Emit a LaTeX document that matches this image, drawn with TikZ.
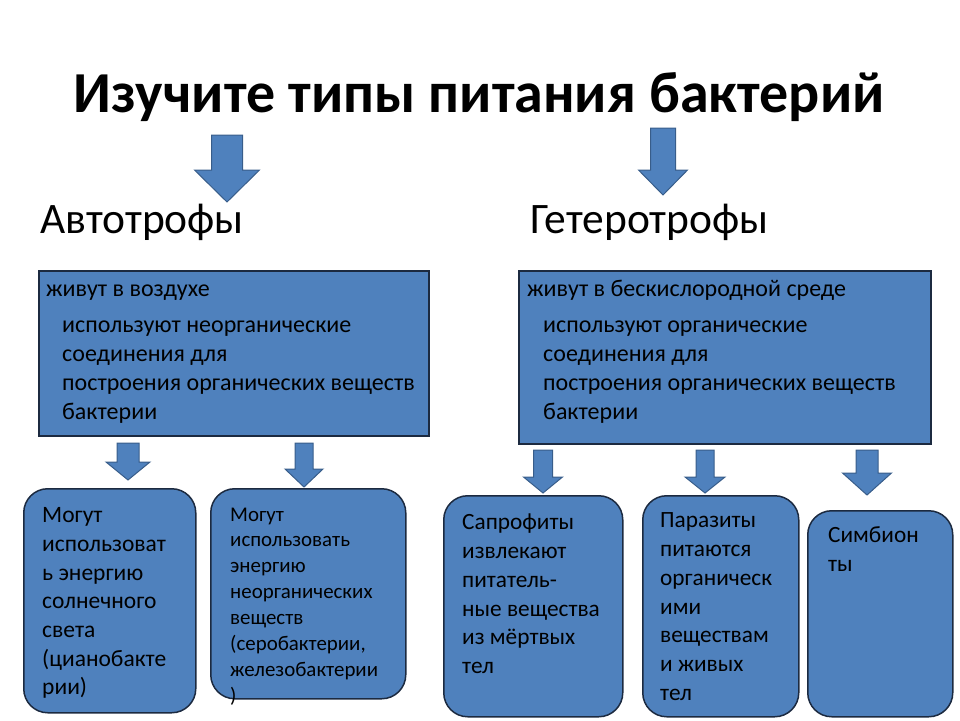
\documentclass[tikz,border=0pt]{standalone}
\usepackage{fontspec}
\setmainfont{Carlito}
\usetikzlibrary{positioning}
\definecolor{boxblue}{HTML}{4F81BD}
\definecolor{boxline}{HTML}{1C2A40}
\definecolor{arrowline}{HTML}{385D8A}
\tikzset{
  topbox/.style={draw=boxline, fill=boxblue, line width=1.5pt, anchor=north west, inner sep=0pt},
  roundbox/.style={topbox, rounded corners=24pt},
  boxtext/.style={anchor=north west, inner sep=0pt, align=left},
  blockarrow/.style={draw=arrowline, fill=boxblue, line width=1pt},
}
% block arrow: tip x, top y, neck y, tip y, shaft half width, head half width
\newcommand{\downblock}[6]{%
  \draw[blockarrow] (#1-#5,#2) -- (#1+#5,#2) -- (#1+#5,#3) -- (#1+#6,#3)
    -- (#1,#4) -- (#1-#6,#3) -- (#1-#5,#3) -- cycle;}

\begin{document}
\begin{tikzpicture}[x=1pt, y=-1pt]
\useasboundingbox (0,0) rectangle (960,720);
\node[anchor=base, font=\fontsize{58}{70}\selectfont\bfseries] (title) at (479,112) {Изучите типы питания бактерий};
\node[anchor=base west, inner sep=0pt, font=\fontsize{43.5}{50}\selectfont] (auto) at (40,233) {Автотрофы};
\node[anchor=base west, inner sep=0pt, font=\fontsize{43.5}{50}\selectfont] (hetero) at (530,233) {Гетеротрофы};

% arrows under the title
\downblock{227}{135}{170}{202}{15.5}{32.5}
\downblock{663}{128}{170}{195}{12.5}{24.5}

% upper boxes
\node[topbox, minimum width=390pt, minimum height=165pt] (autobox) at (38,270) {};
\node[topbox, minimum width=412pt, minimum height=173pt] (heterobox) at (518,270) {};
\node[boxtext, font=\fontsize{24}{29}\selectfont] (autoair) at ([xshift=8pt, yshift=-6.3pt]autobox.north west) {\strut живут в воздухе};
\node[boxtext, font=\fontsize{24}{29}\selectfont] (autouse) at ([xshift=24pt, yshift=-42.3pt]autobox.north west)
  {\strut используют неорганические\\соединения для\\построения органических веществ\\бактерии};
\node[boxtext, font=\fontsize{24}{29}\selectfont] (heteroair) at ([xshift=9pt, yshift=-6.3pt]heterobox.north west) {\strut живут в бескислородной среде};
\node[boxtext, font=\fontsize{24}{29}\selectfont] (heterouse) at ([xshift=25pt, yshift=-42.3pt]heterobox.north west)
  {\strut используют органические\\соединения для\\построения органических веществ\\бактерии};

% small arrows
\downblock{128}{443}{462}{480}{11}{22}
\downblock{304}{443}{469}{487}{9}{19}
\downblock{543}{450}{477}{493}{9.5}{19.5}
\downblock{705}{450}{477}{493}{9}{20}
\downblock{867}{450}{473}{495}{11}{24.5}

% lower boxes
\node[roundbox, minimum width=172pt, minimum height=224pt] (sunbox) at (23,488) {};
\node[roundbox, minimum width=195pt, minimum height=210pt] (chembox) at (210,488) {};
\node[roundbox, minimum width=179pt, minimum height=221pt] (saprobox) at (443,495) {};
\node[roundbox, minimum width=156pt, minimum height=221pt] (parabox) at (642,495) {};
\node[roundbox, minimum width=145pt, minimum height=206pt] (symbbox) at (807,510) {};

\node[boxtext, font=\fontsize{23.5}{28.7}\selectfont] (suntext) at ([xshift=19pt, yshift=-14.4pt]sunbox.north west)
  {\strut Могут\\использоват\\ь энергию\\солнечного\\света\\(цианобакте\\рии)};
\node[boxtext, font=\fontsize{20.9}{25.9}\selectfont] (chemtext) at ([xshift=20pt, yshift=-14.7pt]chembox.north west)
  {\strut Могут\\использовать\\энергию\\неорганических\\веществ\\(серобактерии,\\железобактерии\\)};
\node[boxtext, font=\fontsize{23.3}{28.8}\selectfont] (saprotext) at ([xshift=19pt, yshift=-14.3pt]saprobox.north west)
  {\strut Сапрофиты\\извлекают\\питатель-\\ные вещества\\из мёртвых\\тел};
\node[boxtext, font=\fontsize{23.3}{28.8}\selectfont] (paratext) at ([xshift=18pt, yshift=-12.3pt]parabox.north west)
  {\strut Паразиты\\питаются\\органическ\\ими\\веществам\\и живых\\тел};
\node[boxtext, font=\fontsize{23.3}{28.8}\selectfont] (symbtext) at ([xshift=21pt, yshift=-12.3pt]symbbox.north west)
  {\strut Симбион\\ты};
\end{tikzpicture}
\end{document}
